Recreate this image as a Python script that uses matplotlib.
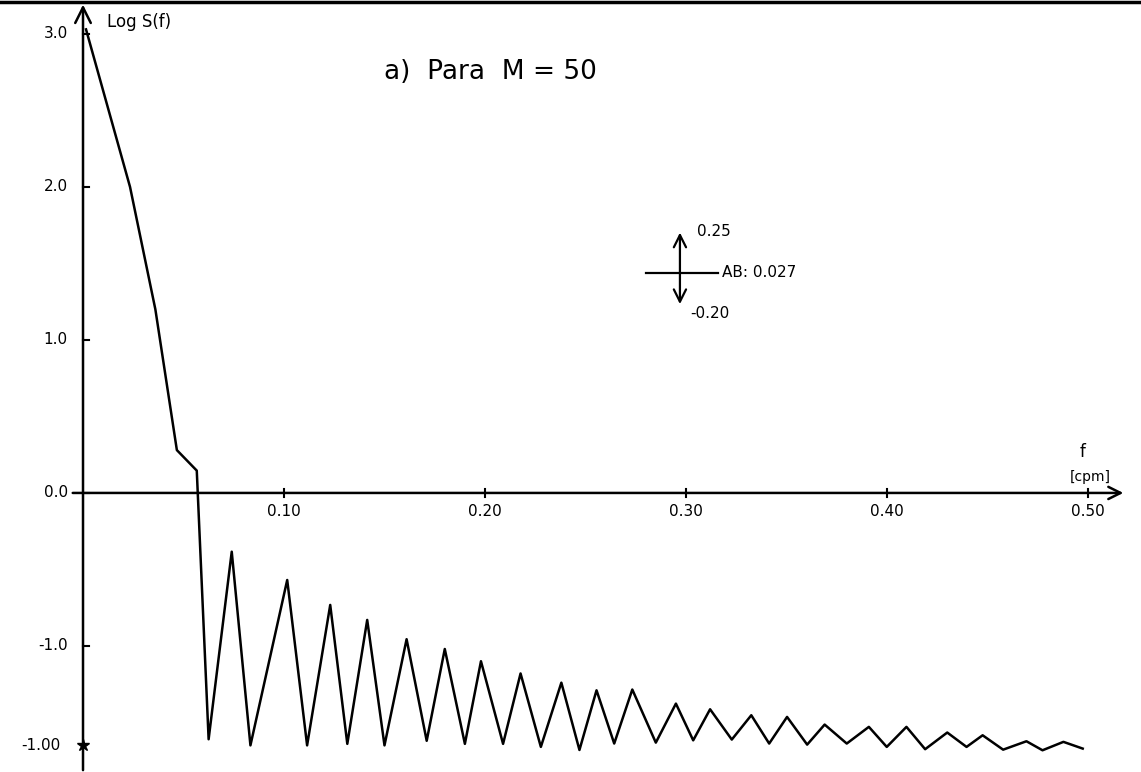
import matplotlib.pyplot as plt
from matplotlib.lines import Line2D

# Frequency (cpm) and Log S(f) (M = 50)
freq = [0.0015, 0.0234, 0.036, 0.0467, 0.0566, 0.0625, 0.074, 0.0833, 0.1016, 0.1115,
        0.123, 0.1315, 0.1414, 0.150, 0.161, 0.171, 0.180, 0.190, 0.198, 0.209,
        0.2177, 0.2278, 0.238, 0.247, 0.2555, 0.2643, 0.2733, 0.285, 0.295, 0.3036,
        0.312, 0.3228, 0.3325, 0.3414, 0.3503, 0.3603, 0.369, 0.380, 0.391, 0.3999,
        0.4097, 0.419, 0.430, 0.4396, 0.4476, 0.4578, 0.4694, 0.4774, 0.4878, 0.4974]
log_s = [3.03, 2.0, 1.2, 0.28, 0.146, -1.61, -0.384, -1.65, -0.569, -1.65,
         -0.732, -1.64, -0.83, -1.65, -0.956, -1.62, -1.02, -1.64, -1.10, -1.64,
         -1.18, -1.66, -1.24, -1.68, -1.29, -1.638, -1.285, -1.632, -1.377, -1.617,
         -1.414, -1.612, -1.453, -1.638, -1.464, -1.645, -1.514, -1.638, -1.529, -1.66,
         -1.529, -1.675, -1.566, -1.66, -1.584, -1.678, -1.623, -1.682, -1.627, -1.671]

x_ticks = [0.10, 0.20, 0.30, 0.40, 0.50]
x_labels = ['0.10', '0.20', '0.30', '0.40', '0.50']
y_ticks = [3.0, 2.0, 1.0, 0.0, -1.0]
y_labels = ['3.0', '2.0', '1.0', '0.0', '-1.0']
y_mark = -1.65
y_mark_label = '-1.00'

# confidence bar annotation
ab_top, ab_mid, ab_bot = 1.72, 1.438, 1.216


def main():
    fig = plt.figure(figsize=(11.41, 7.72), dpi=100)
    ax = fig.add_axes([0, 0, 1, 1])
    ax.set_xlim(-0.0413, 0.5264)
    ax.set_ylim(-1.824, 3.222)
    ax.axis('off')

    # axes drawn by hand style with arrows
    ax.annotate('', xy=(0, 3.21), xytext=(0, -1.83),
                arrowprops=dict(arrowstyle='->', lw=1.8, color='black', mutation_scale=28))
    ax.annotate('', xy=(0.519, 0), xytext=(-0.0065, 0),
                arrowprops=dict(arrowstyle='->', lw=1.8, color='black', mutation_scale=22))

    for t, lab in zip(x_ticks, x_labels):
        ax.plot([t, t], [-0.025, 0.025], color='black', lw=1.5)
        ax.text(t, -0.12, lab, ha='center', va='center', fontsize=11)

    for t, lab in zip(y_ticks, y_labels):
        ax.plot([0, 0.003], [t, t], color='black', lw=1.5)
        ax.text(-0.0075, t, lab, ha='right', va='center', fontsize=11)

    ax.plot([0], [y_mark], marker='*', color='black', markersize=9)
    ax.text(-0.011, y_mark, y_mark_label, ha='right', va='center', fontsize=11)

    ax.plot(freq, log_s, color='black', lw=1.8)

    ax.text(0.012, 3.08, 'Log S(f)', ha='left', va='center', fontsize=12)
    ax.text(0.150, 2.75, 'a)  Para  M = 50', ha='left', va='center', fontsize=19)
    ax.text(0.4975, 0.268, 'f', ha='center', va='center', fontsize=12)
    ax.text(0.501, 0.105, '[cpm]', ha='center', va='center', fontsize=10)

    ax.annotate('', xy=(0.297, ab_top), xytext=(0.297, ab_bot),
                arrowprops=dict(arrowstyle='<->', lw=1.6, color='black', mutation_scale=22))
    ax.plot([0.2801, 0.316], [ab_mid, ab_mid], color='black', lw=1.6)
    ax.text(0.3055, 1.706, '0.25', ha='left', va='center', fontsize=11)
    ax.text(0.318, ab_mid, 'AB: 0.027', ha='left', va='center', fontsize=11)
    ax.text(0.302, 1.176, '-0.20', ha='left', va='center', fontsize=11)

    # dark edge along the top of the scanned page
    fig.add_artist(Line2D([0, 1], [0.998, 0.998], color='black', lw=2.5))

    fig.savefig('out.png', dpi=100)


if __name__ == '__main__':
    main()
